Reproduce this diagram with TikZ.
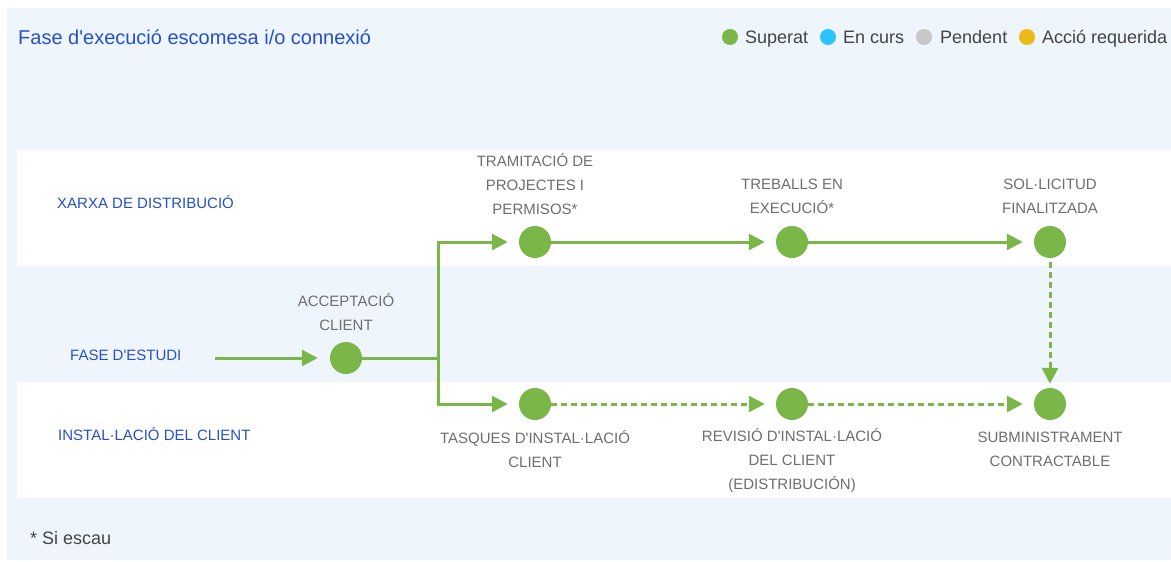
\documentclass[tikz,border=0pt]{standalone}
\usepackage{fontspec}
\setmainfont{Liberation Sans}
\usetikzlibrary{arrows.meta}
\definecolor{panel}{HTML}{EFF5FD}
\definecolor{okgreen}{HTML}{7AB648}
\definecolor{cursblue}{HTML}{2EC4F9}
\definecolor{pendgrey}{HTML}{C8C8C8}
\definecolor{reqyellow}{HTML}{EDB918}
\definecolor{titleblue}{HTML}{2650C8}
\definecolor{labgrey}{HTML}{6E6E6E}
\definecolor{legtext}{HTML}{444444}
\tikzset{
  stepdot/.style={circle,fill=okgreen,minimum size=32pt,inner sep=0pt},
  legdot/.style={circle,minimum size=16pt,inner sep=0pt},
  legtxt/.style={anchor=base west,inner sep=0pt,text=legtext,font=\fontsize{18}{20}\selectfont},
  lanelabel/.style={anchor=west,inner sep=0pt,text=titleblue,font=\fontsize{15}{18}\selectfont},
  steplabel/.style={inner sep=0pt,align=center,text=labgrey,font=\fontsize{15}{24}\selectfont},
  flow/.style={draw=okgreen,line width=3pt,-{Triangle[length=16pt,width=16pt]}},
  flowdash/.style={flow,dash pattern=on 6pt off 4pt},
}
\begin{document}
\begin{tikzpicture}[x=1pt,y=-1pt]
\useasboundingbox (0,0) rectangle (1171,562);
\fill[white] (0,0) rectangle (1171,562);
\fill[panel] (7,8) rectangle (1171,560);
\fill[white] (17,150) rectangle (1171,266);
\fill[white] (17,382) rectangle (1171,498);

% title and legend
\node[anchor=base west,inner sep=0pt,text=titleblue,font=\fontsize{20}{22}\selectfont] (title) at (18,45) {Fase d\textquotesingle execució escomesa i/o connexió};
\node[legdot,fill=okgreen] (d1) at (730,37) {};
\node[legtxt] (l1) at (745,43.5) {Superat};
\node[legdot,fill=cursblue] (d2) at (828,37) {};
\node[legtxt] (l2) at (843,43.5) {En curs};
\node[legdot,fill=pendgrey] (d3) at (924,37) {};
\node[legtxt] (l3) at (940,43.5) {Pendent};
\node[legdot,fill=reqyellow] (d4) at (1027,37) {};
\node[legtxt] (l4) at (1042,43.5) {Acció requerida};

% lane labels
\node[lanelabel] (lx) at (57,202) {XARXA DE DISTRIBUCIÓ};
\node[lanelabel] (lf) at (70,355) {FASE D\textquotesingle ESTUDI};
\node[lanelabel] (li) at (58,434) {INSTAL·LACIÓ DEL CLIENT};

% step nodes
\node[stepdot] (ac) at (346,358) {};
\node[stepdot] (t1) at (535,242) {};
\node[stepdot] (t2) at (792,242) {};
\node[stepdot] (t3) at (1050,242) {};
\node[stepdot] (b1) at (535,404) {};
\node[stepdot] (b2) at (792,404) {};
\node[stepdot] (b3) at (1050,404) {};

% step labels
\node[steplabel] (lac) at (346,312) {ACCEPTACIÓ\\CLIENT};
\node[steplabel] (lt1) at (535,184) {TRAMITACIÓ DE\\PROJECTES I\\PERMISOS*};
\node[steplabel] (lt2) at (792,196) {TREBALLS EN\\EXECUCIÓ*};
\node[steplabel] (lt3) at (1050,196) {SOL·LICITUD\\FINALITZADA};
\node[steplabel] (lb1) at (535,449) {TASQUES D\textquotesingle INSTAL·LACIÓ\\CLIENT};
\node[steplabel] (lb2) at (792,461) {REVISIÓ D\textquotesingle INSTAL·LACIÓ\\DEL CLIENT\\(EDISTRIBUCIÓN)};
\node[steplabel] (lb3) at (1050,449) {SUBMINISTRAMENT\\CONTRACTABLE};

% footnote
\node[anchor=west,inner sep=0pt,text=legtext,font=\fontsize{18}{20}\selectfont] (fn) at (30,538) {* Si escau};

% connectors
\coordinate (start) at (215,358);
\coordinate (j) at (438,358);
\draw[flow,shorten >=12pt] (start) -- (ac);
\draw[draw=okgreen,line width=3pt] (ac) -- (j);
\draw[flow,shorten >=11pt] (j) |- (t1);
\draw[flow,shorten >=11pt] (j) |- (b1);
\draw[flow,shorten >=11pt] (t1) -- (t2);
\draw[flow,shorten >=11pt] (t2) -- (t3);
\draw[flowdash,shorten >=11pt] (b1) -- (b2);
\draw[flowdash,shorten >=11pt] (b2) -- (b3);
\draw[flowdash,shorten <=4pt,shorten >=4pt] (t3) -- (b3);
\end{tikzpicture}
\end{document}
